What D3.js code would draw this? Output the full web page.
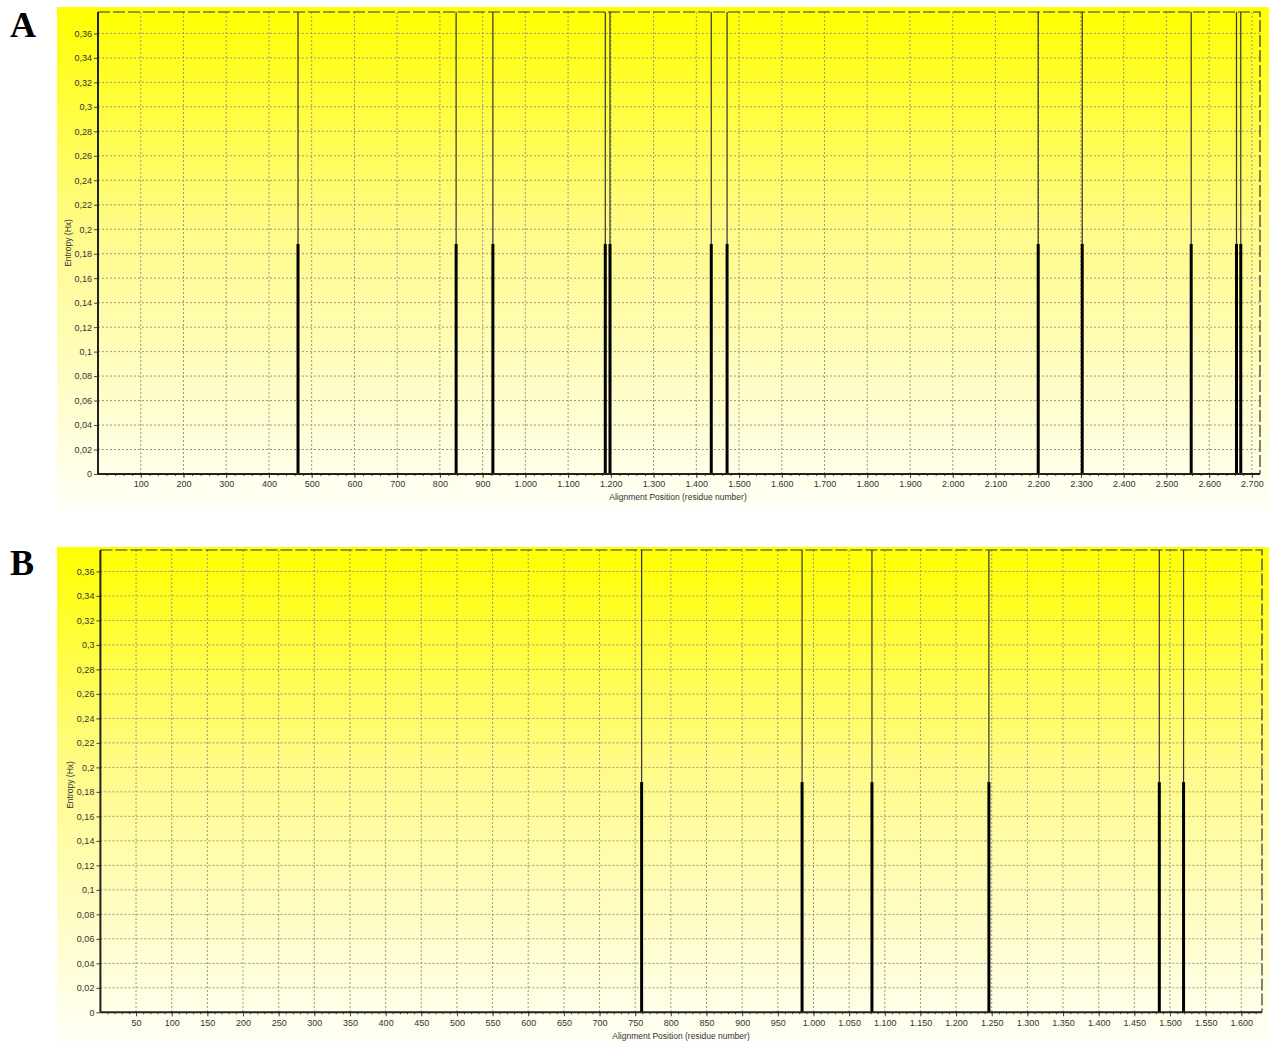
<!DOCTYPE html>
<html>
<head>
<meta charset="utf-8">
<script src="https://cdn.jsdelivr.net/npm/d3@7"></script>
<style>
  body { margin: 0; background: #fff; }
  svg { display: block; }
</style>
</head>
<body>
<div id="root"></div>
<script>
// spike positions (residue numbers) and entropy values
var spikesA = [468, 838, 924, 1187, 1198, 1435, 1472, 2200, 2303, 2558, 2664, 2674];
var entropyA = [0.188, 0.188, 0.188, 0.188, 0.188, 0.188, 0.188, 0.188, 0.188, 0.188, 0.188, 0.188];
var spikesB = [759, 984, 1082, 1246, 1485, 1519];
var entropyB = [0.188, 0.188, 0.188, 0.188, 0.188, 0.188];

var xTicksA = d3.range(100, 2701, 100);
var xTicksB = d3.range(50, 1601, 50);
var yTicks = d3.range(0, 0.3601, 0.02);

var locale = d3.formatLocale({decimal: ",", thousands: ".", grouping: [3], currency: ["", ""]});
var fmtX = locale.format(",");
var fmtY = locale.format(".2~f");

var svg = d3.select("#root")
    .append("svg")
    .attr("width", 1269)
    .attr("height", 1043);

var defs = svg.append("defs");

function drawPanel(cfg) {
    var g = svg.append("g");

    var grad = defs.append("linearGradient")
        .attr("id", "bg" + cfg.label)
        .attr("x1", 0).attr("y1", 0).attr("x2", 0).attr("y2", 1);
    grad.append("stop").attr("offset", "0%").attr("stop-color", "#ffff00");
    grad.append("stop").attr("offset", "45%").attr("stop-color", "#fffb8a");
    grad.append("stop").attr("offset", "100%").attr("stop-color", "#fffff6");

    g.append("rect")
        .attr("x", cfg.bg[0]).attr("y", cfg.bg[1])
        .attr("width", cfg.bg[2]).attr("height", cfg.bg[3])
        .attr("fill", "url(#bg" + cfg.label + ")");

    g.append("text")
        .attr("x", 10).attr("y", cfg.labelY)
        .attr("font-family", "Liberation Serif, serif")
        .attr("font-weight", "bold")
        .attr("font-size", 36)
        .text(cfg.label);

    var x = d3.scaleLinear().domain([0, cfg.xMax]).range([cfg.left, cfg.right]);
    var y = d3.scaleLinear().domain([0, 0.3775]).range([cfg.bottom, cfg.top]);

    // grid
    g.append("g").selectAll("line.v")
        .data(cfg.xTicks)
        .enter().append("line")
        .attr("x1", function (d) { return x(d); })
        .attr("x2", function (d) { return x(d); })
        .attr("y1", cfg.top).attr("y2", cfg.bottom)
        .attr("stroke", "#9a9a7a").attr("stroke-width", 1)
        .attr("stroke-dasharray", "2,2");
    g.append("g").selectAll("line.h")
        .data(yTicks.slice(1))
        .enter().append("line")
        .attr("x1", cfg.left).attr("x2", cfg.right)
        .attr("y1", function (d) { return y(d); })
        .attr("y2", function (d) { return y(d); })
        .attr("stroke", "#9a9a7a").attr("stroke-width", 1)
        .attr("stroke-dasharray", "2,2");

    // dashed top / right border
    g.append("path")
        .attr("d", "M" + cfg.left + "," + cfg.top + "H" + cfg.right + "V" + cfg.bottom)
        .attr("fill", "none")
        .attr("stroke", "#333").attr("stroke-width", 1.2)
        .attr("stroke-dasharray", "12,3");

    // spikes: thin line up to the top, thick bar to the value
    var spikes = cfg.pos.map(function (p, i) { return {p: p, v: cfg.vals[i]}; });
    g.append("g").selectAll("line")
        .data(spikes)
        .enter().append("line")
        .attr("x1", function (d) { return x(d.p); })
        .attr("x2", function (d) { return x(d.p); })
        .attr("y1", function (d) { return y(d.v); })
        .attr("y2", cfg.top)
        .attr("stroke", "#333").attr("stroke-width", 1.2);
    g.append("g").selectAll("line")
        .data(spikes)
        .enter().append("line")
        .attr("x1", function (d) { return x(d.p); })
        .attr("x2", function (d) { return x(d.p); })
        .attr("y1", function (d) { return y(d.v); })
        .attr("y2", cfg.bottom)
        .attr("stroke", "#000").attr("stroke-width", 3);

    // axes
    var yAxis = g.append("g")
        .attr("transform", "translate(" + cfg.left + ",0)")
        .call(d3.axisLeft(y).tickValues(yTicks).tickFormat(fmtY).tickSize(4).tickPadding(2));
    yAxis.select(".domain").remove();
    g.append("line")
        .attr("x1", cfg.left).attr("x2", cfg.left)
        .attr("y1", cfg.top).attr("y2", cfg.bottom)
        .attr("stroke", "#222").attr("stroke-width", 2);

    var minor = d3.range(cfg.minor, cfg.xMax, cfg.minor);
    g.append("g")
        .attr("transform", "translate(0," + cfg.bottom + ")")
        .call(d3.axisBottom(x).tickValues(minor).tickFormat("").tickSize(2))
        .select(".domain").remove();
    var xAxis = g.append("g")
        .attr("transform", "translate(0," + cfg.bottom + ")")
        .call(d3.axisBottom(x).tickValues(cfg.xTicks).tickFormat(fmtX).tickSize(4).tickPadding(3));
    xAxis.select(".domain").remove();
    g.append("line")
        .attr("x1", cfg.left).attr("x2", cfg.right)
        .attr("y1", cfg.bottom).attr("y2", cfg.bottom)
        .attr("stroke", "#222").attr("stroke-width", 2);

    g.selectAll(".tick text")
        .attr("font-family", "Liberation Sans, Arial, sans-serif")
        .attr("font-size", 9)
        .attr("fill", "#333");
    g.selectAll(".tick line").attr("stroke", "#444");

    g.append("text")
        .attr("transform", "translate(" + cfg.yTitle[0] + "," + cfg.yTitle[1] + ") rotate(-90)")
        .attr("text-anchor", "middle")
        .attr("font-family", "Liberation Sans, Arial, sans-serif")
        .attr("font-size", 8.5)
        .attr("fill", "#333")
        .text("Entropy (Hx)");
    g.append("text")
        .attr("x", cfg.xTitle[0]).attr("y", cfg.xTitle[1])
        .attr("text-anchor", "middle")
        .attr("font-family", "Liberation Sans, Arial, sans-serif")
        .attr("font-size", 8.5)
        .attr("fill", "#333")
        .text("Alignment Position (residue number)");
}

drawPanel({
    label: "A", labelY: 37,
    bg: [57, 7, 1212, 500],
    left: 98, right: 1260, top: 12, bottom: 474,
    xMax: 2719, xTicks: xTicksA, minor: 20,
    pos: spikesA, vals: entropyA,
    yTitle: [71, 243], xTitle: [678, 500]
});

drawPanel({
    label: "B", labelY: 575,
    bg: [57, 547, 1212, 496],
    left: 100.4, right: 1262, top: 550, bottom: 1012.3,
    xMax: 1629, xTicks: xTicksB, minor: 10,
    pos: spikesB, vals: entropyB,
    yTitle: [73, 785], xTitle: [681, 1039]
});
</script>
</body>
</html>
